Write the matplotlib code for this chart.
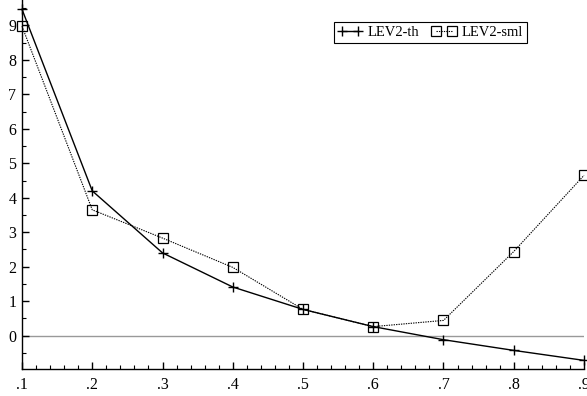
import matplotlib
matplotlib.use("Agg")
import matplotlib.pyplot as plt
from matplotlib.ticker import MultipleLocator, FuncFormatter

x_vals = [0.1, 0.2, 0.3, 0.4, 0.5, 0.6, 0.7, 0.8, 0.9]
lev2_th = [9.47, 4.20, 2.40, 1.41, 0.76, 0.26, -0.12, -0.43, -0.72]
lev2_sml = [8.98, 3.65, 2.83, 1.98, 0.76, 0.26, 0.44, 2.44, 4.65]
x_tick_labels = [".1", ".2", ".3", ".4", ".5", ".6", ".7", ".8", ".9"]

plt.rcParams['font.family'] = ['Liberation Serif', 'DejaVu Serif']

fig = plt.figure(figsize=(5.87, 3.96), dpi=100)
ax = fig.add_axes([22 / 587, 1 - 369 / 396, (584 - 22) / 587, 369 / 396])

ax.axhline(0, color='#999999', lw=1.0, zorder=1)

ax.plot(x_vals, lev2_th, color='black', lw=1.0, marker='+', ms=7, mew=1.0,
        label='LEV2-th', zorder=3, clip_on=False)
ax.plot(x_vals, lev2_sml, color='black', lw=0.8, ls=(0, (1.2, 1.0)), marker='s',
        ms=6.5, mfc='none', mew=0.9, label='LEV2-sml', zorder=3, clip_on=False)

ax.set_xlim(0.1, 0.9)
ax.set_ylim(-0.97, 9.74)

ax.xaxis.set_minor_locator(MultipleLocator(0.02))
ax.set_xticks(x_vals)
ax.set_xticklabels(x_tick_labels)
ax.yaxis.set_major_locator(MultipleLocator(1))
ax.yaxis.set_minor_locator(MultipleLocator(0.5))
ax.yaxis.set_major_formatter(FuncFormatter(lambda v, p: f"{int(round(v))}"))

for s in ['top', 'right']:
    ax.spines[s].set_visible(False)
for s in ['left', 'bottom']:
    ax.spines[s].set_linewidth(1.0)

ax.tick_params(which='major', direction='in', length=5, width=1.0, labelsize=11.5, pad=6)
ax.tick_params(which='minor', direction='in', length=3, width=0.8)
ax.tick_params(axis='y', pad=4)

leg = ax.legend(ncol=2, fontsize=10.5, frameon=True, fancybox=False, framealpha=1,
                edgecolor='black', numpoints=2, handlelength=1.7, handletextpad=0.35,
                columnspacing=0.9, borderpad=0.25, borderaxespad=0, loc='upper right')
leg.get_frame().set_linewidth(0.8)
leg.set_bbox_to_anchor((527 / 587, 1 - 22 / 396), transform=fig.transFigure)

fig.savefig('out.png', dpi=100)
